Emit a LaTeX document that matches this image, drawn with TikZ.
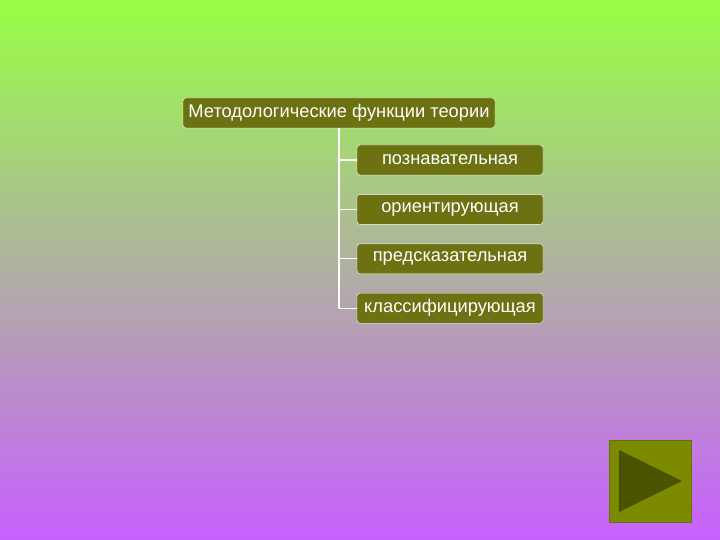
\documentclass[tikz,border=0pt]{standalone}
\usepackage{fontspec}
\setmainfont{Liberation Sans}
\usetikzlibrary{positioning}
\definecolor{bgtop}{RGB}{153,255,68}
\definecolor{bgmid}{RGB}{178,200,176}
\definecolor{bgbot}{RGB}{200,96,255}
\definecolor{boxfill}{RGB}{108,114,18}
\definecolor{btnfill}{RGB}{124,138,0}
\definecolor{btnedge}{RGB}{104,112,10}
\definecolor{btntri}{RGB}{74,84,0}

\begin{document}
\begin{tikzpicture}[x=1pt,y=1pt,
headnode/.style={rectangle, rounded corners=3pt, draw=white, fill=boxfill, thin, text=white, font=\fontsize{18.3}{21}\selectfont, minimum width=312pt, minimum height=30pt, inner sep=0pt},
funcnode/.style={rectangle, rounded corners=3pt, draw=white, fill=boxfill, thin, text=white, font=\fontsize{18.3}{21}\selectfont, minimum width=186pt, minimum height=30pt, inner sep=0pt},
branch/.style={draw=white, line width=1.3pt}]
\shade[top color=bgtop, middle color=bgmid, bottom color=bgbot] (0,0) rectangle (720,-540);
\useasboundingbox (0,0) rectangle (720,-540);

\node[headnode] (head) at (339,-113) {Методологические функции теории};
\node[funcnode] (p) at (450,-160) {познавательная};
\node[funcnode] (o) [below=19pt of p] {ориентирующая};
\node[funcnode] (s) [below=19pt of o] {предсказательная};
\node[funcnode] (k) [below=19pt of s] {классифицирующая};
\coordinate (trunk) at (head.south |- k.west);

\draw[branch] (head.south) -- (trunk);
\draw[branch] (head.south |- p.west) -- (p.west);
\draw[branch] (head.south |- o.west) -- (o.west);
\draw[branch] (head.south |- s.west) -- (s.west);
\draw[branch] (trunk) -- (k.west);

% button
\node[rectangle, draw=btnedge, fill=btnfill, line width=1pt, minimum size=82pt, inner sep=0pt] (btn) at (650.5,-481) {};
\fill[btntri] (619,-450) -- (682,-481) -- (619,-512) -- cycle;
\end{tikzpicture}
\end{document}
